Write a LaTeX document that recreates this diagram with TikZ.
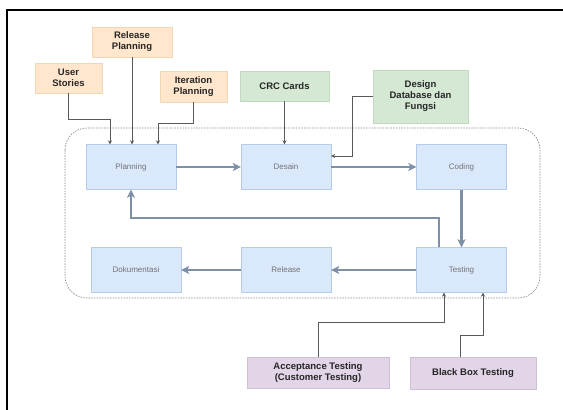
\documentclass[tikz,border=0pt]{standalone}
\usepackage{fontspec}
\setmainfont{Liberation Sans}
\usetikzlibrary{arrows.meta}
\definecolor{stepfill}{HTML}{DAE8FC}
\definecolor{stepline}{HTML}{B4CBEA}
\definecolor{ornfill}{HTML}{FFE6CC}
\definecolor{ornline}{HTML}{F2D7B4}
\definecolor{grnfill}{HTML}{D5E8D4}
\definecolor{grnline}{HTML}{BFDABD}
\definecolor{prpfill}{HTML}{E1D5E7}
\definecolor{prpline}{HTML}{CDBFD6}
\definecolor{flowc}{HTML}{7D90A8}
\tikzset{
  stp/.style={draw=stepline,fill=stepfill,minimum width=90pt,minimum height=45pt,inner sep=0pt,font=\fontsize{8}{9}\selectfont,text=black!55},
  inp/.style={inner sep=0pt,align=center,font=\fontsize{9.5}{11}\selectfont\bfseries,text=black!85},
  orn/.style={inp,draw=ornline,fill=ornfill},
  grn/.style={inp,draw=grnline,fill=grnfill},
  prp/.style={inp,draw=prpline,fill=prpfill},
  fd/.style={draw=black!65,line width=0.8pt,-{Stealth[length=4pt,width=4pt]}},
  flw/.style={draw=flowc,line width=2.6pt,-{Stealth[length=8pt,width=8pt,inset=2pt]}},
  grp/.style={draw=black!45,dashed,dash pattern=on 1.5pt off 1.2pt,rounded corners=22pt,line width=0.7pt}
}

\begin{document}
\begin{tikzpicture}[x=1pt,y=-1pt]
\useasboundingbox (0,0) rectangle (563,410);
\draw[line width=2pt] (7,410) -- (7,10) -- (563,10);
\draw[grp] (65,128) rectangle (540,298);

% stages
\node[stp] (plan) at (131,167) {Planning};
\node[stp] (des) at (286,167) {Desain};
\node[stp] (cod) at (461.5,167) {Coding};
\node[stp] (tst) at (461.5,270) {Testing};
\node[stp] (rls) at (286,270) {Release};
\node[stp] (dok) at (136,270) {Dokumentasi};

% inputs
\node[orn,minimum width=67pt,minimum height=30pt] (usr) at (68.5,78) {User\\Stories};
\node[orn,minimum width=80pt,minimum height=30pt] (rel) at (132,42) {Release\\Planning};
\node[orn,minimum width=67pt,minimum height=31pt] (itr) at (193.5,86.5) {Iteration\\Planning};
\node[grn,minimum width=89pt,minimum height=30pt] (crc) at (284.5,86) {CRC Cards};
\node[grn,minimum width=95pt,minimum height=53pt] (dsg) at (420.5,96.5) {Design\\Database dan\\Fungsi};
\node[prp,minimum width=142pt,minimum height=31pt] (acc) at (318,372.5) {Acceptance Testing\\(Customer Testing)};
\node[prp,minimum width=126pt,minimum height=32pt] (bbx) at (473,373) {Black Box Testing};

\coordinate (u1) at (110,119);
\coordinate (i1) at (158,123);
\coordinate (d1) at (352,156);
\coordinate (t1) at (439,218);
\coordinate (a1) at (444,322);
\coordinate (b1) at (483,335);

% flow
\draw[flw] (plan) -- (des);
\draw[flw] (des) -- (cod);
\draw[flw] (cod) -- (tst);
\draw[flw] (tst) -- (rls);
\draw[flw] (rls) -- (dok);
\draw[flw,line width=1.9pt] (t1 |- tst.north) -- (t1) -| (plan.south);

% feeds
\draw[fd] (usr.south) |- (u1) -- (u1 |- plan.north);
\draw[fd] (rel.south) -- (rel.south |- plan.north);
\draw[fd] (itr.south) |- (i1) -- (i1 |- plan.north);
\draw[fd] (crc.south) -- (crc.south |- des.north);
\draw[fd] (dsg.west) -| (d1) -- (d1 -| des.east);
\draw[fd] (acc.north) |- (a1) -- (a1 |- tst.south);
\draw[fd] ([xshift=-13pt]bbx.north) |- (b1) -- (b1 |- tst.south);
\end{tikzpicture}
\end{document}
